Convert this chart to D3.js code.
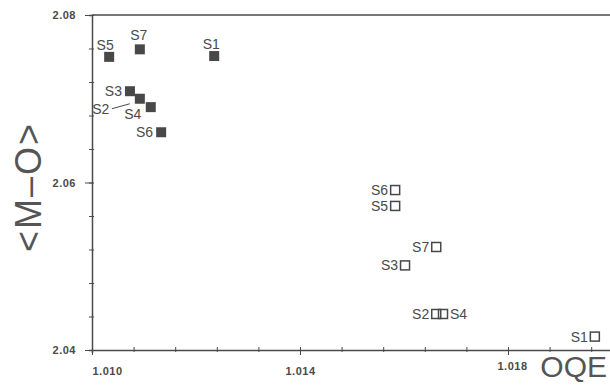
<!DOCTYPE html>
<html>
<head>
<meta charset="utf-8">
<script src="https://cdn.jsdelivr.net/npm/d3@7"></script>
<style>
  body { margin: 0; background: #fff; }
  svg { display: block; font-family: "Liberation Sans", Arial, sans-serif; }
</style>
</head>
<body>
<div id="chart"></div>
<script>
// data
var samples = ["S1", "S2", "S3", "S4", "S5", "S6", "S7"];
var filledX = [1.01235, 1.01092, 1.01073, 1.01113, 1.01033, 1.01133, 1.01092];
var filledY = [2.0751, 2.0700, 2.0709, 2.0690, 2.0750, 2.0660, 2.0759];
var openX = [1.01967, 1.01662, 1.01602, 1.01675, 1.01583, 1.01583, 1.01662];
var openY = [2.0416, 2.0443, 2.0501, 2.0443, 2.0572, 2.0591, 2.0523];
var xTicks = [1.010, 1.014, 1.018];
var yTicks = [2.04, 2.06, 2.08];

var W = 610, H = 385;
var margin = {top: 15, left: 92, bottom: 35};

var svg = d3.select("#chart").append("svg")
  .attr("width", W).attr("height", H);

var x = d3.scaleLinear().domain([1.010, 1.020]).range([margin.left, margin.left + 520]);
var y = d3.scaleLinear().domain([2.04, 2.08]).range([H - margin.bottom, margin.top]);

var ink = "#4a4a4a";

// frame top line
svg.append("line")
  .attr("x1", x(1.010)).attr("x2", W)
  .attr("y1", y(2.08)).attr("y2", y(2.08))
  .attr("stroke", ink).attr("stroke-width", 1.5);

// minor ticks
var xMinor = d3.range(0, 13).map(function(i) { return 1.010 + i * 0.0008; });
var yMinor = d3.range(0, 11).map(function(i) { return 2.04 + i * 0.004; });

var xAxis = svg.append("g")
  .attr("transform", "translate(0," + y(2.04) + ")")
  .call(d3.axisBottom(x).tickValues(xMinor).tickSize(3).tickFormat(""));
var yAxis = svg.append("g")
  .attr("transform", "translate(" + x(1.010) + ",0)")
  .call(d3.axisLeft(y).tickValues(yMinor).tickSize(3).tickFormat(""));

[xAxis, yAxis].forEach(function(g) {
  g.select(".domain").attr("stroke", ink).attr("stroke-width", 1.5);
  g.selectAll(".tick line").attr("stroke", ink);
});
xAxis.selectAll(".tick line").attr("y1", -3).attr("y2", 2);
yAxis.selectAll(".tick line").attr("x1", 2).attr("x2", -3);

// major ticks with labels
var xMajor = svg.append("g")
  .attr("transform", "translate(0," + y(2.04) + ")")
  .call(d3.axisBottom(x).tickValues(xTicks).tickSize(5).tickFormat(d3.format(".3f")));
xMajor.select(".domain").remove();
xMajor.selectAll(".tick line").attr("stroke", ink).attr("y1", -3);
xMajor.selectAll(".tick text")
  .attr("fill", ink).style("font-size", "11px").style("font-weight", "bold")
  .style("letter-spacing", "0.5px")
  .attr("dy", "1.5em")
  .attr("dx", function(d) { return d === 1.010 ? 15 : 0; });
xMajor.selectAll(".tick text").filter(function(d) { return d === 1.018; })
  .attr("y", 3).attr("dx", 4);

var yMajor = svg.append("g")
  .attr("transform", "translate(" + x(1.010) + ",0)")
  .call(d3.axisLeft(y).tickValues(yTicks).tickSize(7).tickFormat(d3.format(".2f")));
yMajor.select(".domain").remove();
yMajor.selectAll(".tick line").attr("stroke", ink);
yMajor.selectAll(".tick text")
  .attr("fill", ink).style("font-size", "11px").style("font-weight", "bold")
  .style("letter-spacing", "0.5px")
  .attr("x", -16).attr("dy", "0.35em");

// points
var filled = samples.map(function(s, i) { return {name: s, x: filledX[i], y: filledY[i]}; });
var open = samples.map(function(s, i) { return {name: s, x: openX[i], y: openY[i]}; });

var sq = 10;
svg.selectAll("rect.filled").data(filled).enter().append("rect")
  .attr("class", "filled")
  .attr("x", function(d) { return x(d.x) - sq / 2; })
  .attr("y", function(d) { return y(d.y) - sq / 2; })
  .attr("width", sq).attr("height", sq)
  .attr("fill", "#484848");

var osq = 9;
svg.selectAll("rect.open").data(open).enter().append("rect")
  .attr("class", "open")
  .attr("x", function(d) { return x(d.x) - osq / 2; })
  .attr("y", function(d) { return y(d.y) - osq / 2; })
  .attr("width", osq).attr("height", osq)
  .attr("fill", "none").attr("stroke", "#484848").attr("stroke-width", 1.5);

// label placement: dx, dy from the point, anchor
var filledLab = {
  S1: [-3, -12, "middle"], S2: [-39, 10, "middle"], S3: [-8, 0, "end"],
  S4: [-18, 7, "middle"], S5: [-4, -12, "middle"], S6: [-8, 0, "end"],
  S7: [-1, -14, "middle"]
};
var openLab = {
  S1: [-7, 0, "end"], S2: [-7, 0, "end"], S3: [-7, 0, "end"],
  S4: [7, 0, "start"], S5: [-7, 0, "end"], S6: [-7, 0, "end"],
  S7: [-7, 0, "end"]
};

svg.selectAll("text.flab").data(filled).enter().append("text")
  .attr("class", "flab")
  .attr("x", function(d) { return x(d.x) + filledLab[d.name][0]; })
  .attr("y", function(d) { return y(d.y) + filledLab[d.name][1]; })
  .attr("dy", "0.35em")
  .attr("text-anchor", function(d) { return filledLab[d.name][2]; })
  .attr("fill", ink).style("font-size", "14px")
  .text(function(d) { return d.name; });

svg.selectAll("text.olab").data(open).enter().append("text")
  .attr("class", "olab")
  .attr("x", function(d) { return x(d.x) + openLab[d.name][0]; })
  .attr("y", function(d) { return y(d.y) + openLab[d.name][1]; })
  .attr("dy", "0.35em")
  .attr("text-anchor", function(d) { return openLab[d.name][2]; })
  .attr("fill", ink).style("font-size", "14px")
  .text(function(d) { return d.name; });

// leader line for S2
var s2 = filled[1];
svg.append("line")
  .attr("x1", x(s2.x) - 28).attr("y1", y(s2.y) + 10)
  .attr("x2", x(s2.x) - 10).attr("y2", y(s2.y) + 5)
  .attr("stroke", ink).attr("stroke-width", 1);

// axis titles
svg.append("text")
  .attr("x", 607).attr("y", 377)
  .attr("text-anchor", "end")
  .attr("fill", "#555").style("font-size", "30px")
  .text("OQE");

svg.append("text")
  .attr("transform", "translate(41,187) rotate(-90)")
  .attr("text-anchor", "middle")
  .attr("fill", "#555").style("font-size", "36px")
  .style("letter-spacing", "2px")
  .text("<M\u2013O>");
</script>
</body>
</html>
